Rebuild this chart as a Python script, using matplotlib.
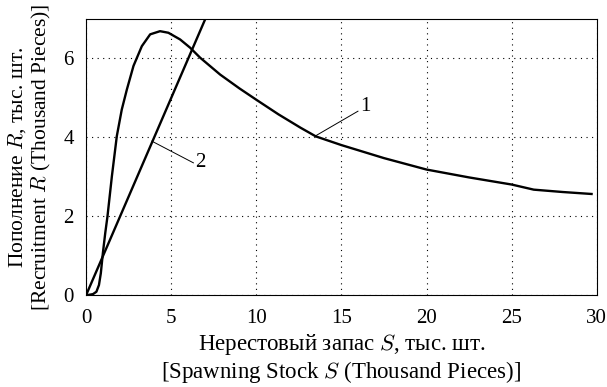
import matplotlib
matplotlib.use("Agg")
import matplotlib.pyplot as plt

plt.rcParams['font.family'] = ['Liberation Serif', 'DejaVu Serif']
plt.rcParams['mathtext.fontset'] = 'cm'

# curve 1: recruitment R vs spawning stock S
stock = [0, 0.14, 0.4, 0.6, 0.75, 0.86, 0.98, 1.12, 1.25, 1.51, 1.80, 2.09,
         2.39, 2.78, 3.27, 3.76, 4.34, 4.83, 5.52, 6.11, 6.69, 7.87, 9.0,
         10.0, 11.3, 12.6, 13.5, 15, 17.5, 20, 22.5, 25, 26.3, 28, 29.7]
recruit = [0, 0, 0.02, 0.08, 0.25, 0.55, 1.06, 1.57, 1.99, 3.01, 4.03, 4.70,
           5.21, 5.81, 6.31, 6.61, 6.69, 6.65, 6.48, 6.27, 6.02, 5.59, 5.24,
           4.95, 4.58, 4.24, 4.02, 3.80, 3.47, 3.18, 2.98, 2.80, 2.67, 2.61,
           2.56]

# line 2: replacement line R = S
line_s = [0, 7]
line_r = [0, 7]

x_ticks = [0, 5, 10, 15, 20, 25, 30]
y_ticks = [0, 2, 4, 6]

fig, ax = plt.subplots(figsize=(6.07, 3.87), dpi=100)
fig.subplots_adjust(left=0.142, right=0.983, top=0.951, bottom=0.238)

ax.plot(stock, recruit, color='black', lw=1.7, solid_joinstyle='round')
ax.plot(line_s, line_r, color='black', lw=1.7)

ax.set_xlim(0, 30)
ax.set_ylim(0, 7)
ax.set_xticks(x_ticks)
ax.set_yticks(y_ticks)
ax.tick_params(length=0, labelsize=15)
ax.tick_params(axis='x', pad=10)
ax.tick_params(axis='y', pad=9)
ax.grid(True, linestyle=(0, (1, 4)), color='black', lw=0.8)

# curve labels with leader lines
ax.plot([13.5, 15.97], [4.04, 4.66], color='black', lw=0.7)
ax.text(16.1, 4.78, '1', fontsize=15, va='center', ha='left')
ax.plot([3.86, 6.3], [3.9, 3.35], color='black', lw=0.7)
ax.text(6.4, 3.36, '2', fontsize=15, va='center', ha='left')

ax.set_xlabel('Нерестовый запас $S$, тыс. шт.\n[Spawning Stock $S$ (Thousand Pieces)]',
              fontsize=16.5, labelpad=3, linespacing=1.1)
ax.set_ylabel('Пополнение $R$, тыс. шт.\n[Recruitment $R$ (Thousand Pieces)]',
              fontsize=15.5, labelpad=7, linespacing=1.15)

fig.savefig('out.png', dpi=100)
